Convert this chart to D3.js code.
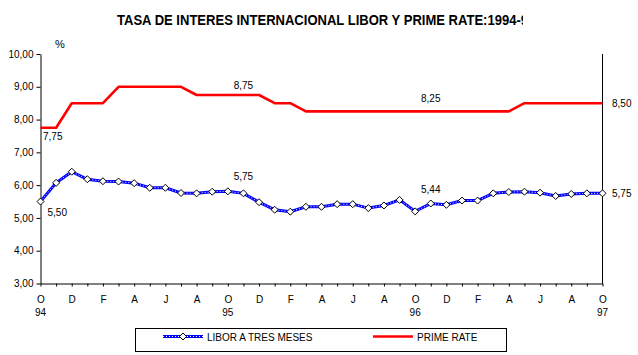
<!DOCTYPE html>
<html>
<head>
<meta charset="utf-8">
<script src="https://cdn.jsdelivr.net/npm/d3@7"></script>
<style>
  html, body { margin: 0; padding: 0; background: #fff; }
  svg { display: block; }
  text { font-family: "Liberation Sans", Arial, sans-serif; }
</style>
</head>
<body>
<svg id="chart" width="638" height="355"></svg>
<script>
// ---- data ----
const titleText = "TASA DE INTERES INTERNACIONAL LIBOR Y PRIME RATE:1994-9";
const unitLabel = "%";
// monthly, Oct 1994 (index 0) to Oct 1997 (index 36)
const libor = [5.50, 6.07, 6.41, 6.18, 6.12, 6.11, 6.06, 5.92, 5.92, 5.76, 5.75, 5.80, 5.81,
               5.75, 5.48, 5.25, 5.19, 5.34, 5.34, 5.42, 5.42, 5.30, 5.38, 5.55, 5.20,
               5.44, 5.40, 5.53, 5.53, 5.75, 5.79, 5.80, 5.77, 5.67, 5.73, 5.75, 5.75];
const prime = [7.75, 7.75, 8.50, 8.50, 8.50, 9.00, 9.00, 9.00, 9.00, 9.00, 8.75, 8.75, 8.75,
               8.75, 8.75, 8.50, 8.50, 8.25, 8.25, 8.25, 8.25, 8.25, 8.25, 8.25, 8.25,
               8.25, 8.25, 8.25, 8.25, 8.25, 8.25, 8.50, 8.50, 8.50, 8.50, 8.50, 8.50];
const monthLabels = ["O","D","F","A","J","A","O","D","F","A","J","A","O","D","F","A","J","A","O"];
const yearLabels = ["94","95","96","97"];
const yTicks = [3, 4, 5, 6, 7, 8, 9, 10];
const labelIndex = [0, 13, 25, 36];
const seriesNames = ["LIBOR A TRES MESES", "PRIME RATE"];

// ---- drawing ----
const svg = d3.select("#chart");
const fmt = v => v.toFixed(2).replace(".", ",");

const x = d3.scaleLinear().domain([0, 36]).range([40.5, 602.5]);
const y = d3.scaleLinear().domain([3, 10]).range([283.5, 54]);

// title
const defs = svg.append("defs");
defs.append("clipPath").attr("id", "titleClip")
  .append("rect").attr("x", 0).attr("y", 0).attr("width", 523).attr("height", 40);
svg.append("text")
  .attr("clip-path", "url(#titleClip)")
  .attr("x", 117).attr("y", 25)
  .attr("textLength", 411).attr("lengthAdjust", "spacingAndGlyphs")
  .style("font-family", "'Liberation Sans Narrow', 'Arial Narrow', 'Liberation Sans', Arial, sans-serif")
  .style("font-weight", "bold").style("font-size", "14px")
  .text(titleText);

svg.append("text").attr("x", 60).attr("y", 48).attr("text-anchor", "middle")
  .style("font-size", "11px").text(unitLabel);

// y axis
const yAxis = d3.axisLeft(y).tickValues(yTicks).tickFormat(fmt).tickSize(4).tickSizeOuter(0).tickPadding(3);
const gy = svg.append("g").attr("transform", "translate(40.5,0)").call(yAxis);
gy.selectAll("text").style("font-size", "10px").style("font-family", "'Liberation Sans', Arial, sans-serif").attr("fill", "#000");
gy.selectAll("line,path").attr("stroke", "#000");

// right axis line
svg.append("line").attr("x1", x(36)).attr("x2", x(36)).attr("y1", y(10)).attr("y2", y(3))
  .attr("stroke", "#000");

// x axis
const xAxis = d3.axisBottom(x).tickValues(d3.range(0, 37)).tickFormat(i => i % 2 === 0 ? monthLabels[i / 2] : "")
  .tickSize(3).tickSizeOuter(0).tickPadding(9);
const gx = svg.append("g").attr("transform", "translate(0,283.5)").call(xAxis);
gx.selectAll("text").style("font-size", "10px").style("font-family", "'Liberation Sans', Arial, sans-serif").attr("fill", "#000");
gx.selectAll("line,path").attr("stroke", "#000");

svg.append("g").selectAll("text").data(yearLabels).join("text")
  .attr("x", (d, i) => x(i * 12)).attr("y", 316)
  .attr("text-anchor", "middle").style("font-size", "10px").text(d => d);

// prime line
const line = d3.line().x((d, i) => x(i)).y(d => y(d));
svg.append("path").datum(prime).attr("d", line)
  .attr("fill", "none").attr("stroke", "#ff0000").attr("stroke-width", 2.6).attr("stroke-linejoin", "round");

// libor line
svg.append("path").datum(libor).attr("d", line)
  .attr("fill", "none").attr("stroke", "#0000ff").attr("stroke-width", 3);
svg.append("path").datum(libor).attr("d", line)
  .attr("fill", "none").attr("stroke", "#ffffff").attr("stroke-width", 1).attr("stroke-dasharray", "1,2");

const diamond = "M0,-3.5L3.5,0L0,3.5L-3.5,0Z";
svg.append("g").selectAll("path").data(libor).join("path")
  .attr("d", diamond)
  .attr("transform", (d, i) => `translate(${x(i)},${y(d)})`)
  .attr("fill", "#fff").attr("stroke", "#000").attr("stroke-width", 1);

// data labels
function placeLabel(series, idx, k, above) {
  const v = series[idx];
  const t = svg.append("text").style("font-size", "10px").text(fmt(v));
  if (k === 0) {
    t.attr("x", x(idx) + (series === prime ? 2.5 : 7)).attr("y", y(v) + (series === prime ? 12 : 14.5));
  } else if (k === labelIndex.length - 1) {
    t.attr("x", x(idx) + 9.5).attr("y", y(v) + 3.5);
  } else {
    t.attr("x", x(idx)).attr("text-anchor", "middle").attr("y", y(v) - above);
  }
}
labelIndex.forEach((idx, k) => {
  placeLabel(prime, idx, k, k === 1 ? 6 : 9);
  placeLabel(libor, idx, k, k === 1 ? 13.5 : 11);
});

// legend
const lg = svg.append("g");
lg.append("rect").attr("x", 135.5).attr("y", 328.5).attr("width", 371).attr("height", 23)
  .attr("fill", "#fff").attr("stroke", "#000");
lg.append("line").attr("x1", 163).attr("x2", 203).attr("y1", 336.5).attr("y2", 336.5)
  .attr("stroke", "#0000ff").attr("stroke-width", 3);
lg.append("line").attr("x1", 163).attr("x2", 203).attr("y1", 336.5).attr("y2", 336.5)
  .attr("stroke", "#fff").attr("stroke-width", 1).attr("stroke-dasharray", "1,2");
lg.append("path").attr("d", diamond).attr("transform", "translate(183,336.5)")
  .attr("fill", "#fff").attr("stroke", "#000");
lg.append("text").attr("x", 207).attr("y", 340.5).style("font-size", "10px").text(seriesNames[0]);
lg.append("line").attr("x1", 373).attr("x2", 413).attr("y1", 336.5).attr("y2", 336.5)
  .attr("stroke", "#ff0000").attr("stroke-width", 2.6);
lg.append("text").attr("x", 417).attr("y", 340.5).style("font-size", "10px").text(seriesNames[1]);
</script>
</body>
</html>
